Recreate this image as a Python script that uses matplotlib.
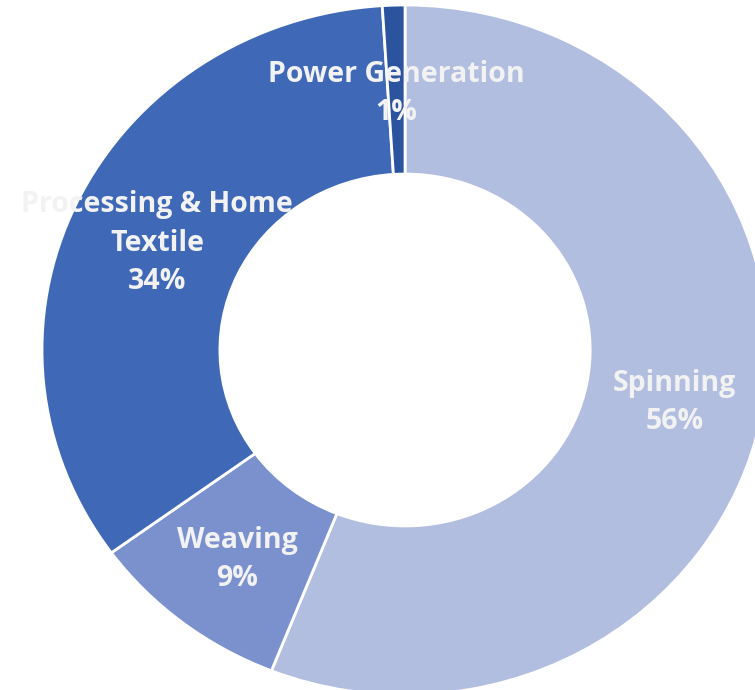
import matplotlib.pyplot as plt
import matplotlib.transforms as mtransforms
import numpy as np

# Datos del grafico de dona
segmentos = ['Spinning', 'Weaving', 'Processing & Home\nTextile', 'Power Generation']
porcentajes = [56, 9, 34, 1]
colores = ['#B2BEDF', '#7A91CE', '#3F69B7', '#2C549E']

fig = plt.figure(figsize=(7.55, 6.9), dpi=100)
ax = fig.add_axes([0, 0, 1, 1])

wedges, _ = ax.pie(porcentajes, colors=colores, startangle=90, counterclock=False,
                   radius=1.0, wedgeprops=dict(width=0.49, edgecolor='white', linewidth=2))

# Etiquetas centradas en el anillo (un poco mas abajo, como en el original)
r_etiqueta = 1.0 - 0.49 / 2
trans = mtransforms.offset_copy(ax.transData, fig=fig, x=0, y=-4, units='dots')
for w, nombre, p in zip(wedges, segmentos, porcentajes):
    ang = np.deg2rad((w.theta1 + w.theta2) / 2)
    ax.text(r_etiqueta * np.cos(ang), r_etiqueta * np.sin(ang), f'{nombre}\n{p}%',
            ha='center', va='center', color='#F2F2F2', fontsize=20.5,
            fontweight='bold', family='Open Sans', linespacing=1.42,
            transform=trans)

# La imagen original esta recortada y un poco estirada en horizontal
ax.set_aspect('auto')
ax.set_xlim(-1.1157, 0.964)
ax.set_ylim(-0.9855, 1.0145)
ax.axis('off')

fig.savefig('out.png', dpi=100)
